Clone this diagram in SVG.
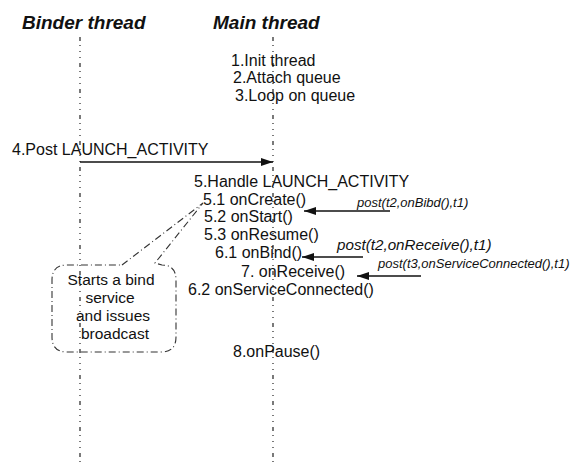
<svg xmlns="http://www.w3.org/2000/svg" width="570" height="466" viewBox="0 0 570 466">
<style>
text{font-family:"Liberation Sans",Arial,sans-serif;fill:#111}
.hd{font-size:19px;font-weight:bold;font-style:italic}
.t{font-size:16px}
.c{font-size:15.5px}
.p{font-style:italic}
.life{stroke:#222;stroke-width:1.2;fill:none;stroke-dasharray:4 4 1 5 1 5 1 5}
.arr{stroke:#111;stroke-width:1.3;fill:none;marker-end:url(#ah)}
.call{stroke:#333;stroke-width:1.1;fill:none;stroke-dasharray:7 3 1 3}
</style>
<defs>
<marker id="ah" viewBox="0 0 12 8" refX="12" refY="4" markerWidth="12" markerHeight="8" markerUnits="userSpaceOnUse" orient="auto">
<path d="M0,0 L12,4 L0,8 z" fill="#111"/>
</marker>
</defs>
<g id="binder">
<text class="hd" x="22" y="29">Binder thread</text>
<line class="life" x1="80" y1="37" x2="80" y2="466"/>
</g>
<g id="main">
<text class="hd" x="213" y="29">Main thread</text>
<line class="life" x1="273" y1="37" x2="273" y2="466"/>
</g>
<g id="steps">
<text class="t" x="231" y="66">1.Init thread</text>
<text class="t" x="233" y="83">2.Attach queue</text>
<text class="t" x="235" y="101">3.Loop on queue</text>
<text class="t" x="12" y="155">4.Post LAUNCH_ACTIVITY</text>
<text class="t" x="194" y="187">5.Handle LAUNCH_ACTIVITY</text>
<text class="t" x="203" y="205">5.1 onCreate()</text>
<text class="t" x="204" y="222">5.2 onStart()</text>
<text class="t" x="204" y="240">5.3 onResume()</text>
<text class="t" x="215" y="258">6.1 onBind()</text>
<text class="t" x="241" y="277">7. onReceive()</text>
<text class="t" x="188" y="295">6.2 onServiceConnected()</text>
<text class="t" x="233" y="357">8.onPause()</text>
</g>
<g id="callout">
<path class="call" d="M122,265 L203,203 L155,263 L162,265 Q176,265 176,280 L176,337 Q176,352 161,352 L67,352 Q52,352 52,337 L52,280 Q52,265 67,265 Z"/>
<text class="c" x="111" y="285" text-anchor="middle">Starts a bind</text>
<text class="c" x="110" y="303" text-anchor="middle">service</text>
<text class="c" x="113" y="321" text-anchor="middle">and issues</text>
<text class="c" x="115" y="339" text-anchor="middle">broadcast</text>
</g>
<g id="connectors">
<line class="arr" x1="390" y1="211" x2="304" y2="211"/>
<line class="arr" x1="80" y1="162" x2="273" y2="162"/>
<text class="p" x="357" y="207" font-size="13">post(t2,onBibd(),t1)</text>
<line class="arr" x1="363" y1="257" x2="302" y2="257"/>
<text class="p" x="337" y="250" font-size="15.2">post(t2,onReceive(),t1)</text>
<line class="arr" x1="421" y1="276" x2="357" y2="276"/>
<text class="p" x="378" y="268" font-size="13">post(t3,onServiceConnected(),t1)</text>
</g>
</svg>
